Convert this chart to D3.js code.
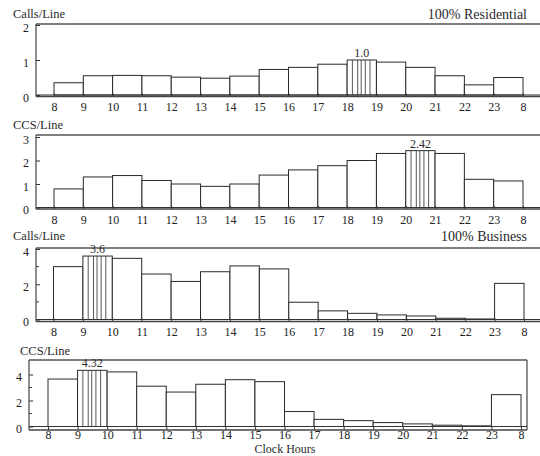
<!DOCTYPE html>
<html>
<head>
<meta charset="utf-8">
<script src="https://cdn.jsdelivr.net/npm/d3@7"></script>
<style>
  body { margin: 0; background: #fff; }
  svg { display: block; font-family: 'Liberation Serif', 'DejaVu Serif', serif; }
  .axis path, .axis line { stroke: #333; }
  .axis text { font-size: 12px; fill: #222; font-family: 'Liberation Serif', serif; }
</style>
</head>
<body>
<svg id="chart" width="540" height="456"></svg>
<script>
// hour labels at the bar edges (8 a.m. round to 8 a.m.)
const hourLabels = ['8', '9', '10', '11', '12', '13', '14', '15', '16', '17', '18', '19', '20', '21', '22', '23', '8'];

// values per clock hour
const resCalls = [0.35, 0.55, 0.56, 0.55, 0.51, 0.48, 0.54, 0.73, 0.79, 0.88, 1.0, 0.94, 0.79, 0.55, 0.29, 0.5];
const resCcs = [0.79, 1.3, 1.36, 1.15, 1.0, 0.9, 1.0, 1.38, 1.6, 1.78, 2.0, 2.3, 2.42, 2.3, 1.2, 1.13];
const busCalls = [3.0, 3.6, 3.47, 2.58, 2.16, 2.71, 3.04, 2.87, 0.98, 0.49, 0.35, 0.26, 0.2, 0.07, 0.03, 2.05];
const busCcs = [3.65, 4.32, 4.2, 3.1, 2.65, 3.25, 3.6, 3.45, 1.15, 0.55, 0.45, 0.3, 0.2, 0.1, 0.05, 2.45];

const yLabels = ['Calls/Line', 'CCS/Line', 'Calls/Line', 'CCS/Line'];
const titles = ['100% Residential', '', '100% Business', ''];
const peakFormats = ['.1f', '.2f', '.1f', '.2f'];

const svg = d3.select('#chart');
const ink = '#2a2a2a';

const panels = [
  { data: resCalls, yMax: 2, zero: 95, yTop: 25, frameTop: 24, axisY: 96.5, x0: 54, x1: 523, left: 36, right: 540, closed: false, major: [0, 1, 2], minor: [], labX: 13, labY: 18, pad: 6 },
  { data: resCcs, yMax: 3, zero: 207.5, yTop: 137, frameTop: 135, axisY: 209, x0: 54, x1: 523, left: 36, right: 540, closed: false, major: [0, 1, 2, 3], minor: [], labX: 13, labY: 129, pad: 6 },
  { data: busCalls, yMax: 4, zero: 319.5, yTop: 249, frameTop: 248, axisY: 321.5, x0: 53.5, x1: 524, left: 36, right: 540, closed: false, major: [0, 2, 4], minor: [1, 3], labX: 13, labY: 240, pad: 6 },
  { data: busCcs, yMax: 4, zero: 426.5, yTop: 374.5, frameTop: 360, axisY: 430, x0: 48, x1: 521, left: 29, right: 527, closed: true, major: [0, 2, 4], minor: [1, 3], labX: 20, labY: 355, pad: 0 },
];

const hatch = [0.18, 0.36, 0.48, 0.62, 0.78];

panels.forEach((p, pi) => {
  const g = svg.append('g');
  const x = d3.scaleLinear().domain([0, hourLabels.length - 1]).range([p.x0, p.x1]);
  const y = d3.scaleLinear().domain([0, p.yMax]).range([p.zero, p.yTop]);

  // frame
  g.append('line').attr('x1', p.left).attr('x2', p.right).attr('y1', p.frameTop).attr('y2', p.frameTop)
    .attr('stroke', '#555').attr('stroke-width', 1.6);
  if (p.closed) {
    g.append('line').attr('x1', p.right).attr('x2', p.right).attr('y1', p.frameTop).attr('y2', p.axisY)
      .attr('stroke', '#444').attr('stroke-width', 1.2);
  }

  // bars
  const peak = d3.maxIndex(p.data);
  g.selectAll('rect.bar').data(p.data).join('rect')
    .attr('class', 'bar')
    .attr('x', (d, i) => x(i))
    .attr('width', (d, i) => x(i + 1) - x(i))
    .attr('y', d => y(d))
    .attr('height', d => y(0) - y(d))
    .attr('fill', '#fff')
    .attr('stroke', ink)
    .attr('stroke-width', 1);

  // vertical hatching on the peak bar
  g.selectAll('line.hatch').data(hatch).join('line')
    .attr('x1', f => x(peak + f)).attr('x2', f => x(peak + f))
    .attr('y1', y(p.data[peak])).attr('y2', y(0))
    .attr('stroke', '#444').attr('stroke-width', 0.9);

  g.append('text')
    .attr('x', x(peak + 0.5)).attr('y', y(p.data[peak]) - 3)
    .attr('text-anchor', 'middle').attr('font-size', 12).attr('fill', ink)
    .text(d3.format(peakFormats[pi])(p.data[peak]));

  // zero line under bars
  g.append('line').attr('x1', p.left).attr('x2', p.right).attr('y1', y(0)).attr('y2', y(0))
    .attr('stroke', '#333').attr('stroke-width', 1.2);

  // x axis
  const xAxis = d3.axisBottom(x).tickValues(d3.range(hourLabels.length))
    .tickFormat(i => hourLabels[i]).tickSize(-3).tickPadding(p.pad);
  const gx = g.append('g').attr('class', 'axis').attr('transform', `translate(0,${p.axisY})`).call(xAxis);
  gx.select('.domain').remove();
  g.append('line').attr('x1', p.left).attr('x2', p.right).attr('y1', p.axisY).attr('y2', p.axisY)
    .attr('stroke', '#444').attr('stroke-width', 1.4);

  // y axis
  const yAxis = d3.axisLeft(y).tickValues(p.major).tickFormat(d3.format('d')).tickSize(-4).tickPadding(7);
  const gy = g.append('g').attr('class', 'axis').attr('transform', `translate(${p.left},0)`).call(yAxis);
  gy.select('.domain').remove();
  gy.selectAll('text').attr('font-size', 12.5).attr('dy', '0.5em');
  g.selectAll('line.minor').data(p.minor).join('line')
    .attr('x1', p.left).attr('x2', p.left + 3).attr('y1', d => y(d)).attr('y2', d => y(d))
    .attr('stroke', '#444');
  g.append('line').attr('x1', p.left).attr('x2', p.left).attr('y1', p.frameTop).attr('y2', p.axisY)
    .attr('stroke', '#444').attr('stroke-width', 1.2);

  g.append('text').attr('x', p.labX).attr('y', p.labY)
    .attr('font-size', 12.5).attr('fill', ink).text(yLabels[pi]);
  if (titles[pi]) {
    g.append('text').attr('x', 527).attr('y', p.labY + 1)
      .attr('text-anchor', 'end').attr('font-size', 14).attr('fill', ink).text(titles[pi]);
  }
});

svg.append('text').attr('x', 285).attr('y', 452.5).attr('text-anchor', 'middle')
  .attr('font-size', 12).attr('fill', ink).text('Clock Hours');
</script>
</body>
</html>
